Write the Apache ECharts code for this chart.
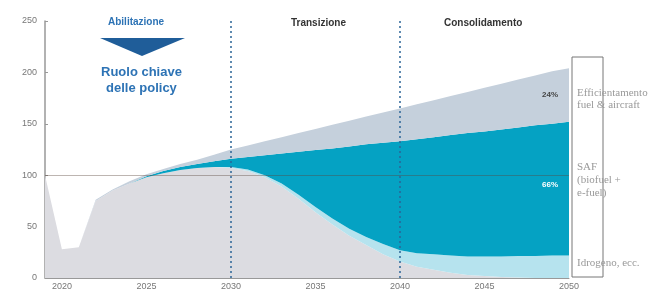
<!DOCTYPE html>
<html><head><meta charset="utf-8">
<script src="https://cdn.jsdelivr.net/npm/echarts@6/dist/echarts.min.js"></script>
<style>html,body{margin:0;padding:0;background:#fff}#c{width:659px;height:293px}</style>
</head><body><div id="c"></div>
<script>
var years = ['2019','2020','2021','2022','2023','2024','2025','2026','2027','2028','2029','2030','2031','2032','2033','2034','2035','2036','2037','2038','2039','2040','2041','2042','2043','2044','2045','2046','2047','2048','2049','2050'];
var xTickLabels = ['2020','2025','2030','2035','2040','2045','2050'];
var fossil = [100,28,30,75,85,92,98,102,105,107,108,107,104,98,89,77,64,52,41,32,23,16,11,8,5,3,2,1,0.5,0,0,0];
var hydrogen = [0,0,0,0,0,0,0,0,0,0,0,1,1.5,2,3,4,5,6,7,8,10,11,13,15,17,18,19,20,21,21.5,22,22];
var saf = [0,0,0,0,0,0,1,2,3,4,5.5,8,12.2,19.4,29,41.8,55.5,68,80,90,98.5,106,111,114,117,120,121.5,123.5,125,127,128,130];
var efficiency = [0,0,0,1,1,2,2,2,3,4,6.5,9,11.3,13.6,16,18.2,20.5,23,25,27,29.5,32,34,36,38,40,42.5,44.5,46.5,48.5,51,52];
var phaseLines = ['2030','2040'];
var refLevel = 100;
var shareLabels = ['24%','66%'];
var legendTexts = [['Efficientamento','fuel & aircraft'],['SAF','(biofuel +','e-fuel)'],['Idrogeno, ecc.']];

var chart = echarts.init(document.getElementById('c'));
function area(name, data, color, extra) {
  var s = {name:name, type:'line', stack:'tot', data:data, symbol:'none', smooth:false,
    lineStyle:{width:0}, areaStyle:{color:color, opacity:1}, z:2};
  if (extra) for (var k in extra) s[k] = extra[k];
  return s;
}
var serif = '"Liberation Serif","DejaVu Serif",serif';
var sans = '"Liberation Sans",Arial,sans-serif';
chart.setOption({
  animation:false,
  grid:{left:45, right:90, top:21, bottom:15},
  xAxis:{type:'category', data:years, boundaryGap:false,
    axisLine:{lineStyle:{color:'#999', width:1}},
    axisTick:{show:false},
    axisLabel:{interval:function(i,v){return xTickLabels.indexOf(v)>=0;}, color:'#777', fontSize:9, fontFamily:sans, margin:4},
    splitLine:{show:false}},
  yAxis:{type:'value', min:0, max:250, interval:50,
    axisLine:{show:true, lineStyle:{color:'#999', width:1.5}},
    axisTick:{show:true, inside:true, length:3, lineStyle:{color:'#999'}},
    axisLabel:{color:'#777', fontSize:9, fontFamily:sans, margin:8},
    splitLine:{show:false}},
  series:[
    area('Fossile', fossil, '#dcdce1', {
      markLine:{symbol:'none', silent:true, label:{show:false},
        lineStyle:{color:'rgba(90,70,60,0.4)', width:1, type:'solid'},
        data:[{yAxis:refLevel}], z:5}
    }),
    area('Idrogeno, ecc.', hydrogen, '#b6e3ee'),
    area('SAF', saf, '#05a2c3'),
    area('Efficientamento', efficiency, '#c5d0dc', {
      markLine:{symbol:'none', silent:true, label:{show:false},
        lineStyle:{color:'#2b6496', width:1.5, type:[2,3]},
        data:phaseLines.map(function(y){return {xAxis:y};}), z:6}
    })
  ],
  graphic:[
    {type:'text', z:100, left:108, top:17, style:{text:'Abilitazione', fill:'#2d73b5', font:'bold 10px '+sans}},
    {type:'polygon', z:100, shape:{points:[[100,38],[185,38],[142,56]]}, style:{fill:'#1f5d99'}},
    {type:'text', z:100, left:101, top:64, style:{text:'Ruolo chiave\ndelle policy', fill:'#2d73b5', font:'bold 13px '+sans, lineHeight:16, align:'center', textAlign:'center'}},
    {type:'text', z:100, left:291, top:18, style:{text:'Transizione', fill:'#333', font:'bold 10px '+sans}},
    {type:'text', z:100, left:444, top:18, style:{text:'Consolidamento', fill:'#333', font:'bold 10px '+sans}},
    {type:'text', z:100, left:542, top:91, style:{text:shareLabels[0], fill:'#444', font:'bold 8px '+sans}},
    {type:'text', z:100, left:542, top:181, style:{text:shareLabels[1], fill:'#fff', font:'bold 8px '+sans}},
    {type:'rect', z:100, shape:{x:572, y:57, width:31, height:220}, style:{fill:'none', stroke:'#777', lineWidth:1}},
    {type:'text', z:100, left:577, top:87, style:{text:legendTexts[0].join('\n'), fill:'#999', font:'11px '+serif, lineHeight:12}},
    {type:'text', z:100, left:577, top:161, style:{text:legendTexts[1].join('\n'), fill:'#999', font:'11px '+serif, lineHeight:13}},
    {type:'text', z:100, left:577, top:258, style:{text:legendTexts[2].join('\n'), fill:'#999', font:'11px '+serif}}
  ]
});
</script></body></html>
